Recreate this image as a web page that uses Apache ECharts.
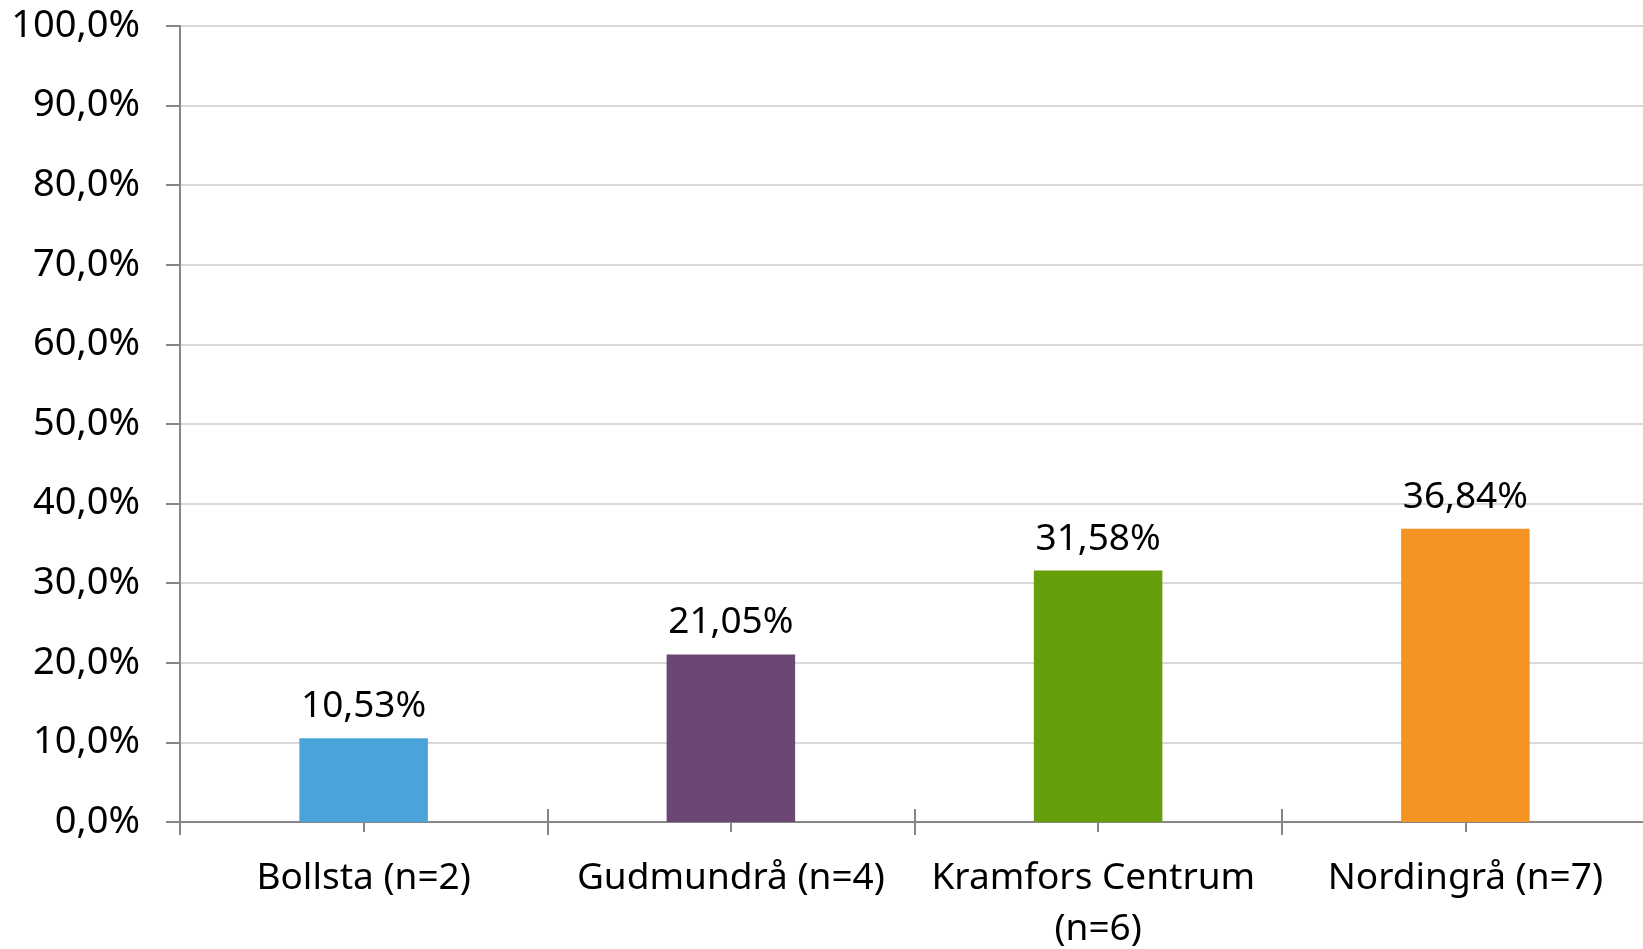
<!DOCTYPE html>
<html>
<head>
<meta charset="utf-8">
<script src="https://cdn.jsdelivr.net/npm/echarts@6/dist/echarts.min.js"></script>
<style>
  html, body { margin: 0; padding: 0; background: #fff; }
  #chart { width: 1643px; height: 949px; }
</style>
</head>
<body>
<div id="chart"></div>
<script>
  // omraden och andel svar (%)
  const categories = ['Bollsta (n=2)', 'Gudmundrå (n=4)', 'Kramfors Centrum (n=6)', 'Nordingrå (n=7)'];
  const values = [10.53, 21.05, 31.58, 36.84];
  const barColors = ['#4aa3d9', '#6d4773', '#669e0c', '#f59422'];

  const FONT = '"Noto Sans", sans-serif';
  const fmt = (v, d) => v.toFixed(d).replace('.', ',') + '%';

  // extra axes only to draw the ticks crossing the x axis line
  function tickAxis(align, inside, len) {
    return {
      type: 'category',
      data: categories,
      position: 'bottom',
      axisLine: { show: false },
      axisLabel: { show: false },
      axisTick: { show: true, alignWithLabel: align, inside: inside, length: len,
                  lineStyle: { color: '#868686', width: 2 } }
    };
  }

  const chart = echarts.init(document.getElementById('chart'));
  chart.setOption({
    animation: false,
    textStyle: { fontFamily: FONT },
    grid: { left: 180, right: -6, top: 26, bottom: 127, containLabel: false, outerBoundsMode: 'none' },
    xAxis: [
      {
        type: 'category',
        data: categories,
        axisLine: { lineStyle: { color: '#868686', width: 2 } },
        axisTick: { show: true, length: 13, lineStyle: { color: '#868686', width: 2 } },
        axisLabel: {
          color: '#000', fontSize: 37, fontFamily: FONT, margin: 31,
          lineHeight: 51, width: 345, overflow: 'break', interval: 0
        }
      },
      tickAxis(false, true, 13),
      tickAxis(true, false, 10),
      tickAxis(true, true, 10)
    ],
    yAxis: {
      type: 'value',
      min: 0,
      max: 100,
      interval: 10,
      axisLine: { show: true, lineStyle: { color: '#868686', width: 2 } },
      axisTick: { show: true, length: 14, lineStyle: { color: '#868686', width: 2 } },
      splitLine: { lineStyle: { color: '#d9d9d9', width: 2 } },
      axisLabel: {
        color: '#000', fontSize: 38, fontFamily: FONT, margin: 40,
        formatter: v => fmt(v, 1)
      }
    },
    series: [{
      type: 'bar',
      data: values.map((v, i) => ({ value: v, itemStyle: { color: barColors[i] } })),
      barWidth: '35%',
      label: {
        show: true, position: 'top', distance: 13,
        color: '#000', fontSize: 37, fontFamily: FONT,
        formatter: p => fmt(p.value, 2)
      }
    }]
  });
</script>
</body>
</html>
